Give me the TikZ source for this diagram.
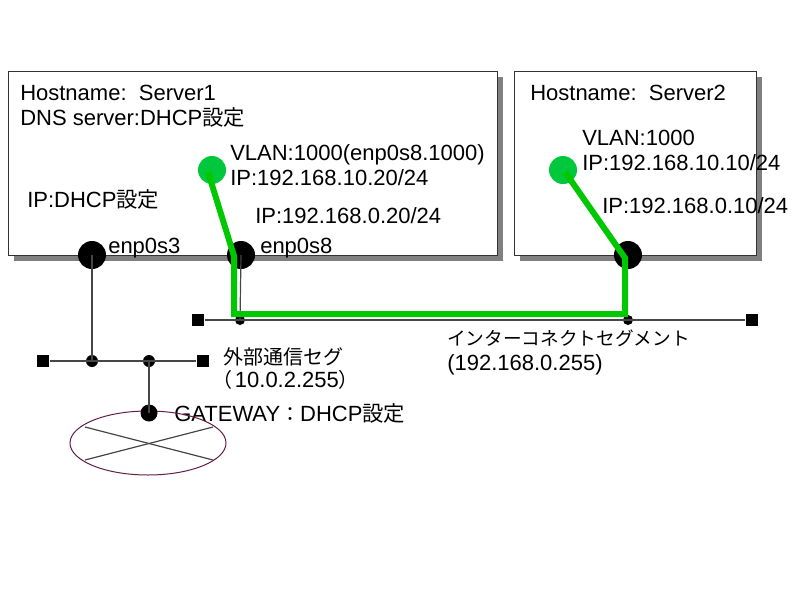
\documentclass[tikz,border=0pt]{standalone}
\usepackage{fontspec}
\setmainfont{Liberation Sans}
\newfontfamily\jp{Noto Sans CJK JP}
\newcommand{\ja}[2][15]{{\jp\fontsize{#1}{18}\selectfont #2}}
\usetikzlibrary{%
	calc,%
	shapes.geometric,%
	shadows
}
\definecolor{vlangreen}{RGB}{0,200,0}
\definecolor{dotgreen}{RGB}{0,200,60}
\definecolor{routercol}{RGB}{100,30,70}
\definecolor{wire}{RGB}{70,70,70}

\begin{document}
\begin{tikzpicture}[x=0.75pt,y=-0.75pt,
		lbl/.style={anchor=base west,inner sep=0pt,font=\fontsize{16.5}{19}\selectfont},
		srv/.style={draw=black!80,fill=white,line width=0.75pt,
			drop shadow={shadow xshift=4.5pt,shadow yshift=-4.5pt,fill=black!50,opacity=1}},
		port/.style={circle,fill=black,inner sep=0pt,minimum size=21pt},
		vdot/.style={circle,fill=dotgreen,inner sep=0pt,minimum size=21pt},
		tap/.style={circle,fill=black,inner sep=0pt,minimum size=#1},
		term/.style={rectangle,fill=black,inner sep=0pt,minimum size=9.5pt},
		thin/.style={draw=wire,line width=0.9pt},
		vlan/.style={draw=vlangreen,line width=4.5pt,line join=miter}]
	\useasboundingbox (0,0) rectangle (800,600);
	
	% Servers
	\node[srv,minimum width=366.75pt,minimum height=138pt] (srv1) at (252.5,163) {};
	\node[srv,minimum width=181.5pt,minimum height=138pt] (srv2) at (635,163) {};
	
	% Server1 texts
	\node[lbl] (host1) at (20,100) {Hostname:\ \ Server1};
	\node[lbl] (dns1) at (20,125) {DNS server:DHCP\ja[16]{設定}};
	\node[lbl] (vlan1) at (230,160) {VLAN:1000(enp0s8.1000)};
	\node[lbl] (vip1) at (230,185) {IP:192.168.10.20/24};
	\node[lbl] (dhcp1) at (27,207) {IP:DHCP\ja[16]{設定}};
	\node[lbl] (ip1) at (255,223) {IP:192.168.0.20/24};
	\node[lbl] (nic3) at (108,253) {enp0s3};
	\node[lbl] (nic8) at (260,253) {enp0s8};
	
	% Server2 texts
	\node[lbl] (host2) at (530,100) {Hostname:\ \ Server2};
	\node[lbl] (vlan2) at (582,145) {VLAN:1000};
	\node[lbl] (vip2) at (582,170) {IP:192.168.10.10/24};
	\node[lbl] (ip2) at (602,213) {IP:192.168.0.10/24};
	
	% Segment labels
	\node[lbl] (extlbl) at (223,364) {\ja{外部通信セグ}};
	\node[lbl] (extnet) at (212,387) {\ja{（}\kern2pt 10.0.2.255\ja{）}};
	\node[lbl] (iclbl) at (447,345) {\ja[14]{インターコネクトセグメント}};
	\node[lbl] (icnet) at (447,370) {(192.168.0.255)};
	\node[lbl] (gwlbl) at (174,421) {GATEWAY\ja{：}DHCP\ja[16]{設定}};
	
	% Interconnect segment
	\node[term] (icl) at (198,320) {};
	\node[term] (icr) at (752,320) {};
	\node[tap=7.5pt] (ic1) at (240,320) {};
	\node[tap=7.5pt] (ic2) at (628,320) {};
	\draw[thin] (icl) -- (icr);
	
	% External segment
	\node[term] (exl) at (43,361) {};
	\node[term] (exr) at (203,361) {};
	\node[tap=9pt] (ex1) at (92,361) {};
	\node[tap=9pt] (ex2) at (149,361) {};
	\draw[thin] (exl) -- (exr);
	
	% Router
	\node[ellipse,draw=routercol,line width=0.75pt,minimum width=117pt,minimum height=48pt,inner sep=0pt] (gw) at (148,443) {};
	\draw[thin] ($(gw.center)+(-63,-16)$) -- ($(gw.center)+(65,17)$);
	\draw[thin] ($(gw.center)+(-63,17)$) -- ($(gw.center)+(65,-16)$);
	\node[tap=12.75pt] (gwport) at (149,413) {};
	
	% Ports
	\node[port] (eth3) at (92,255) {};
	\node[port] (eth8) at (241,255) {};
	\node[port] (eth2) at (628,255) {};
	\draw[thin] (eth3.center) -- (ex1.center);
	\draw[thin] (eth8.center) -- (ic1.center);
	\draw[thin] (ex2.center) -- (gwport.center);
	
	% VLAN path
	\node[vdot] (v1) at (212,170) {};
	\node[vdot] (v2) at (563,170) {};
	\coordinate (b1) at (234,256);
	\coordinate (b2) at (234,314);
	\coordinate (b3) at (625,314);
	\coordinate (b4) at (625,258);
	\draw[vlan] ($(v1.center)+(-4,2)$) -- (b1) -- (b2) -- (b3) -- (b4) -- ($(v2.center)+(2,2)$);
\end{tikzpicture}
\end{document}
